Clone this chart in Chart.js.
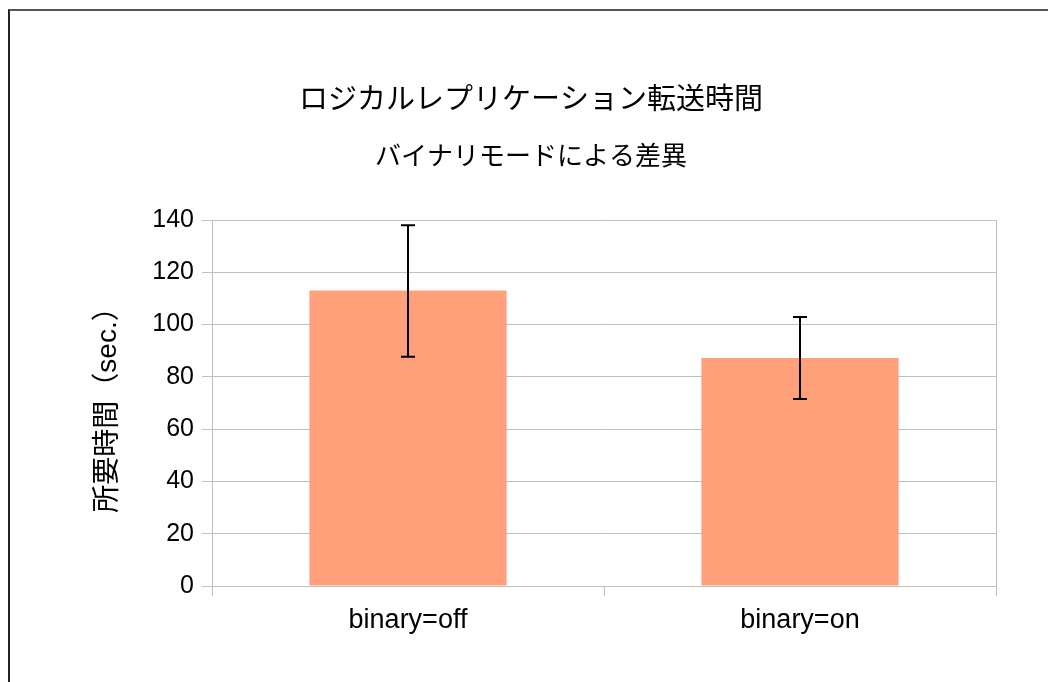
<!DOCTYPE html>
<html>
<head>
<meta charset="utf-8">
<script src="https://cdn.jsdelivr.net/npm/chart.js@4"></script>
<style>
html,body{margin:0;padding:0;background:#fff;overflow:hidden;}
#wrap{position:relative;width:1048px;height:682px;}
#frame{position:absolute;left:8px;top:9px;width:1100px;height:700px;border-top:2px solid #555;border-left:2px solid #222;}
canvas{position:absolute;left:0;top:0;}
</style>
</head>
<body>
<div id="wrap"><div id="frame"></div><canvas id="c" width="1048" height="682"></canvas></div>
<script>
// data
const categories = ["binary=off", "binary=on"];
const meanTime = [113.0, 87.2];
const errLow = [87.7, 71.5];
const errHigh = [138.0, 102.9];

const jp = "'Liberation Sans', 'Noto Sans CJK JP', sans-serif";
const gridColor = "#c0c0c0";

// error bars drawn through the y scale
const errorBars = {
  id: "errorBars",
  afterDatasetsDraw(chart){
    const ctx = chart.ctx, y = chart.scales.y;
    const meta = chart.getDatasetMeta(0);
    ctx.save();
    ctx.strokeStyle = "#000"; ctx.lineWidth = 2;
    meta.data.forEach((bar, i) => {
      const x = bar.x, yl = y.getPixelForValue(errLow[i]), yh = y.getPixelForValue(errHigh[i]);
      ctx.beginPath();
      ctx.moveTo(x, yl); ctx.lineTo(x, yh);
      ctx.moveTo(x - 7, yl); ctx.lineTo(x + 7, yl);
      ctx.moveTo(x - 7, yh); ctx.lineTo(x + 7, yh);
      ctx.stroke();
    });
    ctx.restore();
  }
};

Chart.defaults.font.family = "'Liberation Sans', sans-serif";
Chart.defaults.color = "#000";

new Chart(document.getElementById("c"), {
  type: "bar",
  data: {
    labels: categories,
    datasets: [{ data: meanTime, backgroundColor: "#ffa07a", borderWidth: 0,
                 categoryPercentage: 1, barPercentage: 0.503 }]
  },
  options: {
    responsive: false,
    animation: false,
    layout: { padding: { left: 14, right: 0, top: 0, bottom: 0 } },
    plugins: {
      legend: { display: false },
      tooltip: { enabled: false },
      title: { display: true, text: "ロジカルレプリケーション転送時間",
               font: { size: 29, family: jp, weight: "normal" }, color: "#000",
               padding: { top: 84, bottom: 10 } },
      subtitle: { display: true, text: "バイナリモードによる差異",
                  font: { size: 26, family: jp, weight: "normal" }, color: "#000",
                  padding: { top: 13, bottom: 47 } }
    },
    scales: {
      x: {
        grid: { drawOnChartArea: false, color: gridColor, tickLength: 10, offset: true },
        border: { display: true, color: gridColor },
        ticks: { font: { size: 27 }, color: "#000", padding: 8 },
        afterFit(s){ s.height = 96; }
      },
      y: {
        min: 0, max: 140,
        ticks: { stepSize: 20, font: { size: 25 }, color: "#000", padding: 8 },
        grid: { color: gridColor, tickLength: 10 },
        border: { display: true, color: gridColor },
        title: { display: true, text: "所要時間（sec.）", font: { size: 28, family: jp },
                 color: "#000", padding: { top: 77, bottom: 0 } },
        afterFit(s){ s.width = 198; }
      },
      y2: {
        position: "right",
        grid: { display: false },
        ticks: { display: false },
        border: { display: true, color: gridColor },
        afterFit(s){ s.width = 52; }
      }
    }
  },
  plugins: [errorBars]
});
</script>
</body>
</html>
